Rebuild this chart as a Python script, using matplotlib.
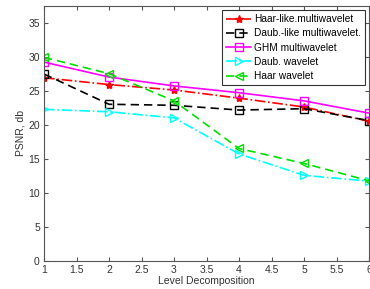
import matplotlib.pyplot as plt

levels = [1, 2, 3, 4, 5, 6]

haar_like_multi = [26.9, 25.9, 25.1, 23.9, 22.6, 20.5]
daub_like_multi = [27.45, 23.0, 22.85, 22.15, 22.35, 20.6]
ghm_multi = [29.2, 27.0, 25.7, 24.7, 23.5, 21.7]
daub_wavelet = [22.25, 21.9, 21.0, 15.7, 12.55, 11.7]
haar_wavelet = [29.9, 27.5, 23.5, 16.5, 14.3, 11.75]

labels = ["Haar-like.multiwavelet", "Daub.-like multiwavelet.", "GHM multiwavelet",
          "Daub. wavelet", "Haar wavelet"]

plt.rcParams['font.family'] = ['Liberation Sans', 'DejaVu Sans']

fig = plt.figure(figsize=(3.7, 2.89), dpi=100)
ax = fig.add_axes([44 / 370, 1 - 260.7 / 289, 325 / 370, (260.7 - 6) / 289])

ax.plot(levels, haar_like_multi, color='red', linestyle='-.', marker='*',
        markersize=6, linewidth=1.2, label=labels[0])
ax.plot(levels, daub_like_multi, color='black', linestyle=(0, (5, 3)), marker='s',
        markersize=6, markerfacecolor='none', linewidth=1.2, label=labels[1])
ax.plot(levels, ghm_multi, color='magenta', linestyle='-', marker='s',
        markersize=6, markerfacecolor='none', linewidth=1.2, label=labels[2])
ax.plot(levels, daub_wavelet, color='cyan', linestyle='-.', marker='>',
        markersize=6, markerfacecolor='none', linewidth=1.2, label=labels[3])
ax.plot(levels, haar_wavelet, color='#00e000', linestyle=(0, (5, 3)), marker='<',
        markersize=6, markerfacecolor='none', linewidth=1.2, label=labels[4])

ax.set_xlim(1, 6)
ax.set_ylim(0, 37.45)
ax.set_xticks([1, 1.5, 2, 2.5, 3, 3.5, 4, 4.5, 5, 5.5, 6])
ax.set_xticklabels(['1', '1.5', '2', '2.5', '3', '3.5', '4', '4.5', '5', '5.5', '6'])
ax.set_yticks(range(0, 40, 5))
ax.tick_params(direction='in', labelsize=7.5, length=3, color='#555555',
               labelcolor='#333333', top=True, right=True, pad=3)
for s in ax.spines.values():
    s.set_color('#555555')
    s.set_linewidth(0.8)

ax.set_xlabel('Level Decomposition', fontsize=7.5, color='#333333', labelpad=1)
ax.set_ylabel('PSNR, db', fontsize=7.5, color='#333333', labelpad=2)

leg = ax.legend(loc='upper right', fontsize=7.3, frameon=True, fancybox=False,
                borderaxespad=0.4, handlelength=2.5, labelspacing=0.42,
                borderpad=0.4, handletextpad=0.25)
leg.get_frame().set_edgecolor('black')
leg.get_frame().set_linewidth(0.8)

plt.savefig('out.png', dpi=100)
